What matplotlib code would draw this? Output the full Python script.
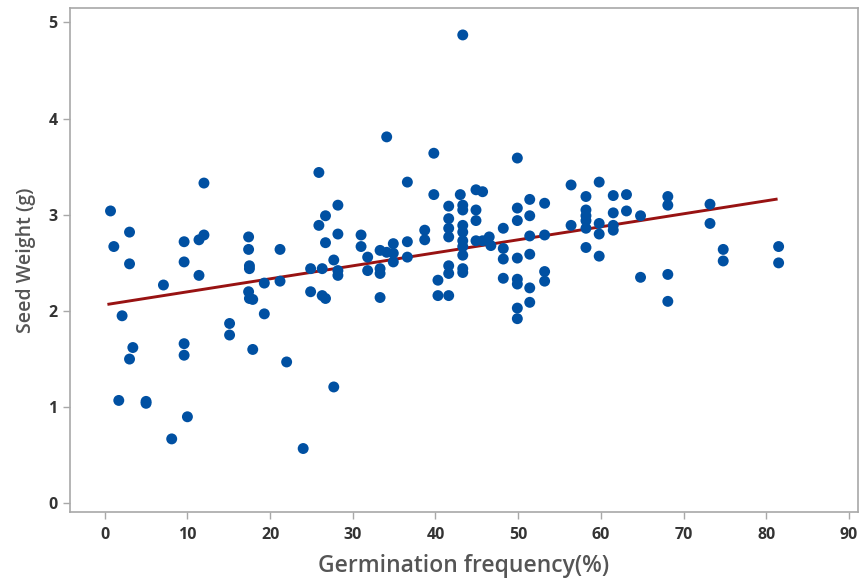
import matplotlib
matplotlib.use("Agg")
import matplotlib.pyplot as plt
import numpy as np

plt.rcParams['font.family'] = ['Open Sans', 'DejaVu Sans']

# Germination frequency (%) and seed weight (g)
germination = [
    0.7, 1.1, 1.7, 2.1, 3.0, 3.0, 3.0, 3.4, 5.0, 5.0, 7.1, 8.1,
    9.6, 9.6, 9.6, 9.6, 10.0, 11.4, 11.4, 12.0, 12.0, 15.1, 15.1,
    17.4, 17.4, 17.4, 17.5, 17.5, 17.5, 17.9, 17.9, 19.3, 19.3,
    21.2, 21.2, 22.0, 24.0, 24.9, 24.9, 25.9, 25.9, 26.3, 26.3,
    26.7, 26.7, 26.7, 27.7, 27.7, 28.2, 28.2, 28.2, 28.2,
    31.0, 31.0, 31.8, 31.8, 33.3, 33.3, 33.3, 33.3,
    34.1, 34.1, 34.9, 34.9, 34.9, 36.6, 36.6, 36.6, 38.7, 38.7,
    39.8, 39.8, 40.3, 40.3,
    41.6, 41.6, 41.6, 41.6, 41.6, 41.6, 41.6, 43.0,
    43.3, 43.3, 43.3, 43.3, 43.3, 43.3, 43.3, 43.3, 43.3, 43.3,
    44.9, 44.9, 44.9, 44.9, 45.7, 45.7, 46.5, 46.7,
    48.2, 48.2, 48.2, 48.2,
    49.9, 49.9, 49.9, 49.9, 49.9, 49.9, 49.9, 49.9,
    51.4, 51.4, 51.4, 51.4, 51.4, 51.4, 53.2, 53.2, 53.2, 53.2,
    56.4, 56.4, 58.2, 58.2, 58.2, 58.2, 58.2, 58.2,
    59.8, 59.8, 59.8, 59.8, 61.5, 61.5, 61.5, 61.5, 63.1, 63.1,
    64.8, 64.8, 68.1, 68.1, 68.1, 68.1, 73.2, 73.2, 74.8, 74.8,
    81.5, 81.5,
]
seed_weight = [
    3.04, 2.67, 1.07, 1.95, 2.82, 2.49, 1.50, 1.62, 1.04, 1.06, 2.27, 0.67,
    2.72, 2.51, 1.66, 1.54, 0.90, 2.74, 2.37, 2.79, 3.33, 1.87, 1.75,
    2.77, 2.64, 2.20, 2.47, 2.44, 2.13, 2.12, 1.60, 2.29, 1.97,
    2.64, 2.31, 1.47, 0.57, 2.44, 2.20, 3.44, 2.89, 2.44, 2.16,
    2.99, 2.71, 2.13, 2.53, 1.21, 3.10, 2.80, 2.42, 2.37,
    2.79, 2.67, 2.56, 2.42, 2.63, 2.44, 2.39, 2.14,
    3.81, 2.61, 2.70, 2.60, 2.51, 3.34, 2.72, 2.56, 2.84, 2.74,
    3.64, 3.21, 2.32, 2.16,
    3.09, 2.96, 2.86, 2.77, 2.47, 2.39, 2.16, 3.21,
    4.87, 3.10, 3.05, 2.89, 2.82, 2.73, 2.67, 2.58, 2.44, 2.40,
    3.26, 3.05, 2.94, 2.73, 3.24, 2.73, 2.77, 2.68,
    2.86, 2.65, 2.54, 2.34,
    3.59, 3.07, 2.94, 2.55, 2.33, 2.28, 2.03, 1.92,
    3.16, 2.99, 2.78, 2.59, 2.24, 2.09, 3.12, 2.79, 2.41, 2.31,
    3.31, 2.89, 3.19, 3.05, 2.99, 2.94, 2.86, 2.66,
    3.34, 2.91, 2.80, 2.57, 3.20, 3.02, 2.89, 2.84, 3.21, 3.04,
    2.99, 2.35, 3.19, 3.10, 2.38, 2.10, 3.11, 2.91, 2.64, 2.52,
    2.67, 2.50,
]

# Fitted line
fit_intercept = 2.064
fit_slope = 0.01352

x_ticks = [0, 10, 20, 30, 40, 50, 60, 70, 80, 90]
y_ticks = [0, 1, 2, 3, 4, 5]

fig = plt.figure(figsize=(8.59, 5.78), dpi=100)
ax = fig.add_axes([70 / 859, 66 / 578, 788 / 859, 504 / 578])

ax.scatter(germination, seed_weight, s=62, color='#0050A2', edgecolors='none', zorder=3)

gx = np.array([min(germination) - 0.2, max(germination) - 0.3])
ax.plot(gx, fit_intercept + fit_slope * gx, color='#981212', lw=2.1, zorder=2)

ax.set_xlim(-4.2, 91.1)
ax.set_ylim(-0.09, 5.15)
ax.set_xticks(x_ticks)
ax.set_yticks(y_ticks)

spine_col = '#A8A8A8'
for sp in ax.spines.values():
    sp.set_color(spine_col)
    sp.set_linewidth(1.2)

ax.tick_params(axis='both', direction='out', length=5, width=1.0, color=spine_col,
               labelsize=11.5, labelcolor='#333333', pad=4)
ax.tick_params(axis='x', pad=6)
for lab in ax.get_xticklabels() + ax.get_yticklabels():
    lab.set_fontweight('bold')

ax.set_xlabel('Germination frequency(%)', fontsize=16.5, color='#555555',
              fontweight='semibold', labelpad=8)
ax.set_ylabel('Seed Weight (g)', fontsize=14, color='#555555',
              fontweight='semibold', labelpad=9)

fig.savefig('out.png', dpi=100)
